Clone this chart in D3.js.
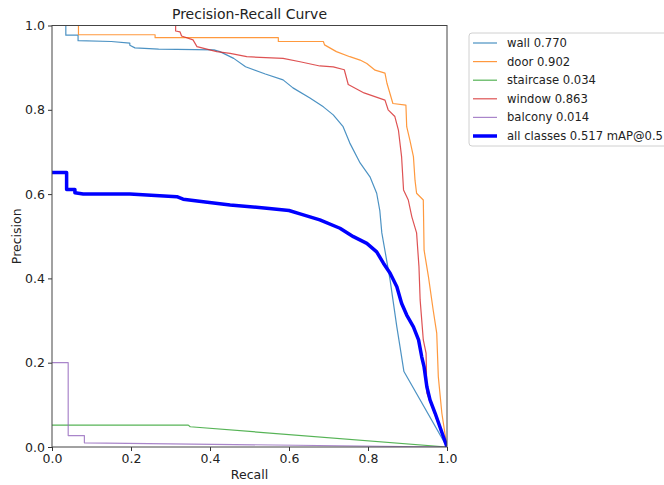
<!DOCTYPE html>
<html>
<head>
<meta charset="utf-8">
<script src="https://cdn.jsdelivr.net/npm/d3@7"></script>
<style>
  body { margin: 0; background: #fff; }
  svg { font-family: "DejaVu Sans", sans-serif; }
</style>
</head>
<body>
<div id="chart"></div>
<script>
// recall / precision pairs
var wall = [[0.035,1.0],[0.035,0.977],[0.066,0.977],[0.066,0.964],[0.15,0.962],[0.197,0.958],[0.197,0.953],[0.21,0.947],[0.27,0.944],[0.41,0.942],[0.425,0.938],[0.46,0.922],[0.49,0.902],[0.54,0.885],[0.585,0.871],[0.61,0.852],[0.653,0.828],[0.687,0.807],[0.712,0.788],[0.737,0.76],[0.754,0.721],[0.78,0.674],[0.805,0.641],[0.822,0.602],[0.83,0.56],[0.835,0.508],[0.856,0.396],[0.873,0.285],[0.881,0.238],[0.891,0.179],[1.0,0.0]]
var door = [[0.067,1.0],[0.067,0.978],[0.261,0.978],[0.261,0.971],[0.573,0.971],[0.573,0.962],[0.687,0.962],[0.69,0.954],[0.72,0.938],[0.754,0.926],[0.78,0.918],[0.797,0.91],[0.818,0.894],[0.843,0.887],[0.848,0.863],[0.863,0.815],[0.896,0.811],[0.898,0.76],[0.906,0.728],[0.915,0.689],[0.919,0.633],[0.923,0.602],[0.94,0.586],[0.942,0.467],[0.953,0.404],[0.965,0.325],[0.974,0.27],[0.978,0.167],[0.987,0.08],[1.0,0.0]]
var staircase = [[0,0.052],[0.345,0.052],[0.35,0.048],[1.0,0.0]]
var windows = [[0.313,1.0],[0.313,0.987],[0.324,0.985],[0.328,0.975],[0.357,0.966],[0.367,0.95],[0.417,0.938],[0.451,0.934],[0.493,0.926],[0.585,0.922],[0.628,0.914],[0.678,0.904],[0.712,0.902],[0.74,0.895],[0.75,0.86],[0.79,0.84],[0.843,0.823],[0.851,0.8],[0.868,0.784],[0.877,0.752],[0.885,0.689],[0.89,0.61],[0.902,0.586],[0.911,0.546],[0.923,0.508],[0.929,0.428],[0.932,0.349],[0.94,0.254],[0.947,0.223],[0.949,0.128],[1.0,0.0]]
var balcony = [[0,0.2],[0.041,0.2],[0.041,0.027],[0.082,0.027],[0.082,0.01],[1.0,0.0]]
var allClasses = [[0,0.651],[0.037,0.651],[0.037,0.611],[0.058,0.611],[0.058,0.603],[0.079,0.6],[0.197,0.6],[0.316,0.594],[0.332,0.588],[0.383,0.582],[0.451,0.574],[0.55,0.566],[0.6,0.561],[0.628,0.553],[0.678,0.539],[0.729,0.519],[0.763,0.499],[0.797,0.483],[0.822,0.463],[0.839,0.436],[0.856,0.412],[0.873,0.38],[0.885,0.341],[0.898,0.313],[0.915,0.285],[0.928,0.254],[0.936,0.214],[0.942,0.19],[0.949,0.143],[0.957,0.112],[0.97,0.08],[0.982,0.048],[1.0,0.0]]

var labels = ["wall 0.770", "door 0.902", "staircase 0.034", "window 0.863", "balcony 0.014", "all classes 0.517 mAP@0.5"]
var ticks = [0, 0.2, 0.4, 0.6, 0.8, 1.0]

var series = [
  {values: wall, color: "#1f77b4", w: 1.2},
  {values: door, color: "#ff7f0e", w: 1.2},
  {values: staircase, color: "#2ca02c", w: 1.2},
  {values: windows, color: "#d62728", w: 1.2},
  {values: balcony, color: "#9467bd", w: 1.2},
  {values: allClasses, color: "#0000ff", w: 3.5}
]
series.forEach((s, i) => s.label = labels[i])

var margin = {top: 25.5, right: 217, bottom: 38, left: 52}
var width = 664 - margin.left - margin.right
var height = 485 - margin.top - margin.bottom

var svg = d3.select("#chart").append("svg")
  .attr("width", 664)
  .attr("height", 485)

var g = svg.append("g")
  .attr("transform", "translate(" + margin.left + "," + margin.top + ")")

var x = d3.scaleLinear().domain([0, 1]).range([0, width])
var y = d3.scaleLinear().domain([0, 1]).range([height, 0])

g.append("clipPath").attr("id", "clip")
  .append("rect").attr("width", width).attr("height", height)

var line = d3.line()
  .x(d => x(d[0]))
  .y(d => y(d[1]))

g.append("g").attr("clip-path", "url(#clip)")
  .selectAll("path")
  .data(series)
  .enter().append("path")
    .attr("d", d => line(d.values))
    .style("fill", "none")
    .style("stroke", d => d.color)
    .style("stroke-width", d => d.w)
    .style("stroke-linejoin", "round")
    .style("opacity", d => d.w > 2 ? 1 : 0.8)

// axes
var xAxis = g.append("g")
  .attr("transform", "translate(0," + height + ")")
  .call(d3.axisBottom(x).tickValues(ticks).tickFormat(d3.format(".1f")).tickSizeOuter(0).tickSize(4).tickPadding(3))
var yAxis = g.append("g")
  .call(d3.axisLeft(y).tickValues(ticks).tickFormat(d3.format(".1f")).tickSizeOuter(0).tickSize(4).tickPadding(3))

;[xAxis, yAxis].forEach(a => {
  a.select(".domain").remove()
  a.selectAll("line").style("stroke", "#333")
  a.selectAll("text").style("font-size", "12.5px").style("fill", "#222").style("font-family", "DejaVu Sans")
})

g.append("rect")
  .attr("width", width).attr("height", height)
  .style("fill", "none").style("stroke", "#444").style("stroke-width", 1)

// labels
svg.append("text")
  .attr("x", margin.left + width / 2).attr("y", 19)
  .attr("text-anchor", "middle")
  .style("font-size", "14px").style("fill", "#222")
  .text("Precision-Recall Curve")

svg.append("text")
  .attr("x", margin.left + width / 2).attr("y", 479)
  .attr("text-anchor", "middle")
  .style("font-size", "12.5px").style("fill", "#222")
  .text("Recall")

svg.append("text")
  .attr("transform", "translate(21," + (margin.top + height / 2) + ") rotate(-90)")
  .attr("text-anchor", "middle")
  .style("font-size", "12.5px").style("fill", "#222")
  .text("Precision")

// legend
var legend = svg.append("g").attr("transform", "translate(469,33)")
legend.append("rect")
  .attr("width", 210).attr("height", 113).attr("rx", 3)
  .style("fill", "#fff").style("stroke", "#d0d0d0")

var items = legend.selectAll(".item")
  .data(series)
  .enter().append("g")
    .attr("transform", (d, i) => "translate(0," + (10 + i * 18.6) + ")")

items.append("line")
  .attr("x1", 4).attr("x2", 28)
  .style("stroke", d => d.color)
  .style("stroke-width", d => d.w)
  .style("opacity", d => d.w > 2 ? 1 : 0.8)

items.append("text")
  .attr("x", 38).attr("dy", "0.35em")
  .style("font-size", "11.6px").style("fill", "#222")
  .text(d => d.label)
</script>
</body>
</html>
